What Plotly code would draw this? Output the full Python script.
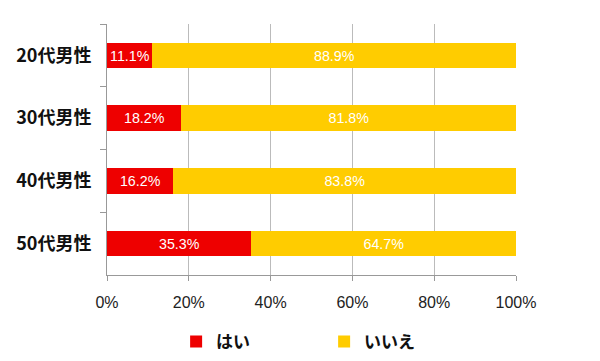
import plotly.graph_objects as go

categories = ["20代男性", "30代男性", "40代男性", "50代男性"]
hai = [11.1, 18.2, 16.2, 35.3]
iie = [88.9, 81.8, 83.8, 64.7]
series_names = ["はい", "いいえ"]
tick_vals = [0, 20, 40, 60, 80, 100]
tick_text = ["0%", "20%", "40%", "60%", "80%", "100%"]

red = "#EE0000"
yellow = "#FFCC00"
num_font = "Liberation Sans, Arial, sans-serif"
jp_font = "Noto Sans CJK JP, sans-serif"

fig = go.Figure()
for name, vals, col in [(series_names[0], hai, red), (series_names[1], iie, yellow)]:
    fig.add_trace(go.Bar(
        name=name, y=categories, x=vals, orientation="h",
        marker=dict(color=col, line=dict(width=0)),
        text=[f"{v:.1f}%" for v in vals], textposition="inside",
        insidetextanchor="middle", textangle=0,
        textfont=dict(color="white", size=15, family=num_font),
        hoverinfo="skip",
    ))

fig.update_layout(
    barmode="stack", bargap=0.59,
    width=600, height=361,
    margin=dict(l=107, r=84, t=24, b=86, autoexpand=False),
    paper_bgcolor="white", plot_bgcolor="white",
    showlegend=True,
    legend=dict(orientation="h", x=0.169, xanchor="left",
                yref="container", y=0.053, yanchor="middle",
                font=dict(family=jp_font, size=17, color="#111111", weight="bold"),
                entrywidth=103, entrywidthmode="pixels", traceorder="normal",
                itemwidth=30),
    uniformtext=dict(minsize=8, mode="show"),
)
fig.update_xaxes(
    range=[0, 100], tickvals=tick_vals, ticktext=tick_text,
    showgrid=True, gridcolor="#BBBBBB", gridwidth=1,
    showline=True, linecolor="#999999", linewidth=1,
    ticks="outside", ticklen=5, tickcolor="#999999",
    tickfont=dict(family=num_font, size=16, color="#222222"),
    ticklabelstandoff=8, automargin=False,
    zeroline=False, fixedrange=True,
)
fig.update_yaxes(
    categoryorder="array", categoryarray=categories, autorange="reversed",
    tickson="boundaries", ticks="outside", ticklen=6, tickcolor="#999999",
    showline=True, linecolor="#999999", linewidth=1,
    tickfont=dict(family=jp_font, size=18, color="#111111", weight="bold"),
    ticklabelstandoff=11, automargin=False, showgrid=False, fixedrange=True,
)

fig.write_html("out.html", config={"displayModeBar": False},
               post_script="document.body.style.margin='0';")
